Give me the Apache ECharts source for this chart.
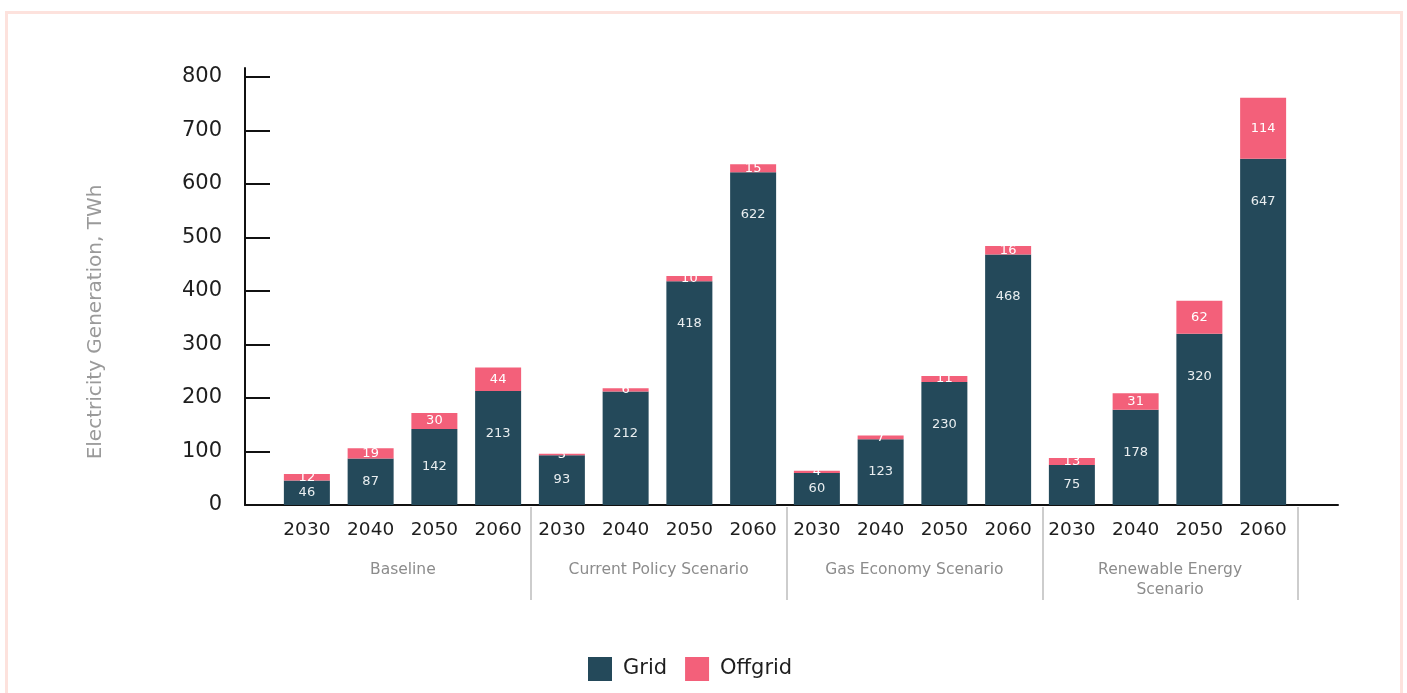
<!DOCTYPE html>
<html>
<head>
<meta charset="utf-8">
<title>Electricity Generation by Scenario</title>
<script src="https://cdn.jsdelivr.net/npm/echarts@6/dist/echarts.min.js"></script>
<style>
  html, body { margin: 0; padding: 0; background: #ffffff; }
  #frame {
    position: absolute; left: 5px; top: 11px; width: 1398px; height: 700px;
    border: 3px solid #fde2dd; box-sizing: border-box;
  }
  #chart { position: absolute; left: 0; top: 0; width: 1407px; height: 693px; }
</style>
</head>
<body>
<div id="frame"></div>
<div id="chart"></div>
<script>
// Scenarios and the years reported under each
const scenarios = ['Baseline', 'Current Policy Scenario', 'Gas Economy Scenario', 'Renewable Energy\nScenario'];
const years = ['2030', '2040', '2050', '2060'];

// Electricity generation, TWh (one entry per scenario-year, scenario by scenario)
const gridValues = [46, 87, 142, 213, 93, 212, 418, 622, 60, 123, 230, 468, 75, 178, 320, 647];
const offgridValues = [12, 19, 30, 44, 3, 6, 10, 15, 4, 7, 11, 16, 13, 31, 62, 114];

// Y axis ticks
const yTicks = [0, 100, 200, 300, 400, 500, 600, 700, 800];

const GRID_COLOR = '#24495a';
const OFFGRID_COLOR = '#f3607a';
const FONT = '"DejaVu Sans", "Noto Sans", sans-serif';

// Plot layout
const plotTop = 77, plotBottom = 188, plotLeft = 275, plotRight = 112;
const plotHeight = 693 - plotTop - plotBottom;
const yMax = yTicks[yTicks.length - 1];
const pxPerUnit = plotHeight / yMax;

// One unique key per bar; the year is what gets printed
const categories = [];
scenarios.forEach(function (s, gi) {
  years.forEach(function (y) { categories.push(gi + '|' + y); });
});

// Tall grid bars carry their label near the top, short ones in the middle
const gridData = gridValues.map(function (v) {
  const half = v * pxPerUnit / 2;
  return half > 40
    ? { value: v, label: { position: 'insideTop', distance: 36 } }
    : { value: v, label: { position: 'inside' } };
});

const chart = echarts.init(document.getElementById('chart'), null, { renderer: 'canvas' });

chart.setOption({
  animation: false,
  textStyle: { fontFamily: FONT },
  grid: [
    { left: plotLeft, right: plotRight, top: plotTop, bottom: plotBottom },
    { left: 245, right: 69, top: 68, bottom: plotBottom },
    { left: plotLeft, right: plotRight - 3, top: 507, bottom: 93 }
  ],
  xAxis: [
    {
      gridIndex: 0, type: 'category', data: categories,
      axisLine: { show: false }, axisTick: { show: false },
      axisLabel: {
        margin: 16, fontSize: 18.5, color: '#1e1e1e', fontFamily: FONT,
        formatter: function (v) { return v.split('|')[1]; }
      }
    },
    {
      gridIndex: 1, type: 'value', min: 0, max: 1,
      axisLine: { show: true, lineStyle: { color: '#111', width: 2 } },
      axisTick: { show: false }, axisLabel: { show: false }, splitLine: { show: false }
    },
    {
      gridIndex: 2, type: 'category', data: scenarios, position: 'top',
      axisLine: { show: false }, axisTick: { show: false },
      axisLabel: {
        inside: true, margin: 53, fontSize: 15.5, color: '#8c8c8c',
        verticalAlign: 'top', lineHeight: 20, fontFamily: FONT
      },
      splitLine: { show: true, showMinLine: false, lineStyle: { color: '#bdbdbd', width: 1.5 } }
    }
  ],
  yAxis: [
    {
      gridIndex: 0, type: 'value', min: 0, max: yMax, interval: 100, offset: 30,
      name: 'Electricity Generation, TWh', nameLocation: 'middle', nameGap: 139,
      nameTextStyle: { fontSize: 20, color: '#9a9a9a', fontFamily: FONT, padding: [0, 62, 0, 0] },
      axisLine: { show: false },
      axisTick: { show: true, inside: true, length: 25, lineStyle: { color: '#111', width: 2 } },
      axisLabel: { margin: 23, fontSize: 21, color: '#1e1e1e', fontFamily: FONT },
      splitLine: { show: false }
    },
    {
      gridIndex: 1, type: 'value', min: 0, max: 1,
      axisLine: { show: true, lineStyle: { color: '#111', width: 2 } },
      axisTick: { show: false }, axisLabel: { show: false }, splitLine: { show: false }
    },
    {
      gridIndex: 2, type: 'value', show: false
    }
  ],
  legend: {
    data: ['Grid', 'Offgrid'], left: 588, top: 657, padding: 0,
    icon: 'rect', itemWidth: 24, itemHeight: 24, itemGap: 18,
    textStyle: { fontSize: 21, color: '#1e1e1e', fontFamily: FONT, padding: [0, 0, 0, 6] }
  },
  series: [
    {
      name: 'Grid', type: 'bar', stack: 'total', xAxisIndex: 0, yAxisIndex: 0,
      barWidth: 46, data: gridData,
      itemStyle: { color: GRID_COLOR },
      label: { show: true, color: '#e9eef0', fontSize: 13, fontFamily: FONT }
    },
    {
      name: 'Offgrid', type: 'bar', stack: 'total', xAxisIndex: 0, yAxisIndex: 0,
      barWidth: 46, data: offgridValues,
      itemStyle: { color: OFFGRID_COLOR },
      label: { show: true, position: 'inside', color: '#ffffff', fontSize: 13, fontFamily: FONT }
    }
  ]
});
</script>
</body>
</html>
